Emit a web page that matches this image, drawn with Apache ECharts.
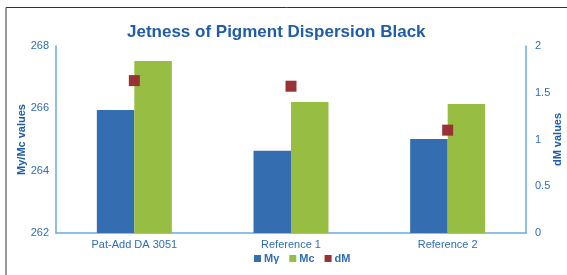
<!DOCTYPE html>
<html>
<head>
<meta charset="utf-8">
<script src="https://cdn.jsdelivr.net/npm/echarts@6/dist/echarts.min.js"></script>
<style>
  html, body { margin: 0; padding: 0; background: #fff; }
  #chart { width: 567px; height: 275px; }
</style>
</head>
<body>
<div id="chart"></div>
<script>
// data
const categories = ['Pat-Add DA 3051', 'Reference 1', 'Reference 2'];
const myValues = [265.95, 264.64, 265.02];
const mcValues = [267.52, 266.2, 266.14];
const dmValues = [1.63, 1.57, 1.1];
const leftTicks = [262, 264, 266, 268];
const rightTicks = [0, 0.5, 1, 1.5, 2];

const textBlue = '#2f6db5';
const axisBlue = '#6aaae0';

const chart = echarts.init(document.getElementById('chart'));

const option = {
    animation: false,
    title: {
        text: 'Jetness of Pigment Dispersion Black',
        left: 122,
        top: 19,
        textStyle: {
            color: '#1f5ca9',
            fontFamily: 'Liberation Sans, Arial',
            fontWeight: 'bold',
            fontSize: 17
        }
    },
    graphic: [
        {
            type: 'polyline',
            shape: { points: [[6, 275], [6, 7.5], [567, 7.5]] },
            style: { stroke: '#333', lineWidth: 1, fill: null }
        }
    ],
    legend: {
        data: ['Mγ', 'Mc', 'dM'],
        bottom: 6,
        left: 249,
        itemWidth: 7,
        itemHeight: 7,
        itemGap: 10,
        icon: 'rect',
        textStyle: {
            color: textBlue,
            fontFamily: 'Liberation Sans, Arial',
            fontWeight: 'bold',
            fontSize: 11,
            padding: [0, 0, 0, -2]
        }
    },
    grid: {
        left: 56,
        right: 41,
        top: 46,
        bottom: 42,
        outerBoundsMode: 'none',
        containLabel: false
    },
    xAxis: {
        type: 'category',
        data: categories,
        axisLine: { lineStyle: { color: axisBlue, width: 1.5 } },
        axisTick: { show: false },
        axisLabel: {
            color: textBlue,
            fontFamily: 'Liberation Sans, Arial',
            fontSize: 11,
            margin: 6
        }
    },
    yAxis: [
        {
            type: 'value',
            name: 'My/Mc values',
            nameLocation: 'middle',
            nameGap: 29,
            nameMoveOverlap: false,
            nameTextStyle: {
                color: '#1f5ca9',
                fontFamily: 'Liberation Sans, Arial',
                fontWeight: 'bold',
                fontSize: 11
            },
            min: leftTicks[0],
            max: leftTicks[leftTicks.length - 1],
            interval: 2,
            axisLine: { show: true, lineStyle: { color: axisBlue, width: 1.5 } },
            axisTick: { show: false },
            splitLine: { show: false },
            axisLabel: {
                color: textBlue,
                fontFamily: 'Liberation Sans, Arial',
                fontSize: 11,
                margin: 7
            }
        },
        {
            type: 'value',
            name: 'dM values',
            nameLocation: 'middle',
            nameGap: 26,
            nameRotate: 90,
            nameMoveOverlap: false,
            nameTextStyle: {
                color: '#1f5ca9',
                fontFamily: 'Liberation Sans, Arial',
                fontWeight: 'bold',
                fontSize: 11
            },
            min: rightTicks[0],
            max: rightTicks[rightTicks.length - 1],
            interval: 0.5,
            axisLine: { show: true, lineStyle: { color: axisBlue, width: 1.5 } },
            axisTick: { show: false },
            splitLine: { show: false },
            axisLabel: {
                color: textBlue,
                fontFamily: 'Liberation Sans, Arial',
                fontSize: 11,
                margin: 9
            }
        }
    ],
    series: [
        {
            name: 'Mγ',
            type: 'bar',
            data: myValues,
            barWidth: 37.5,
            barGap: '0%',
            itemStyle: { color: '#356eb0' }
        },
        {
            name: 'Mc',
            type: 'bar',
            data: mcValues,
            barWidth: 37.5,
            itemStyle: { color: '#97bd43' }
        },
        {
            name: 'dM',
            type: 'scatter',
            yAxisIndex: 1,
            data: dmValues,
            symbol: 'rect',
            symbolSize: 11,
            itemStyle: { color: '#983234', opacity: 1 }
        }
    ]
};

chart.setOption(option);
</script>
</body>
</html>
